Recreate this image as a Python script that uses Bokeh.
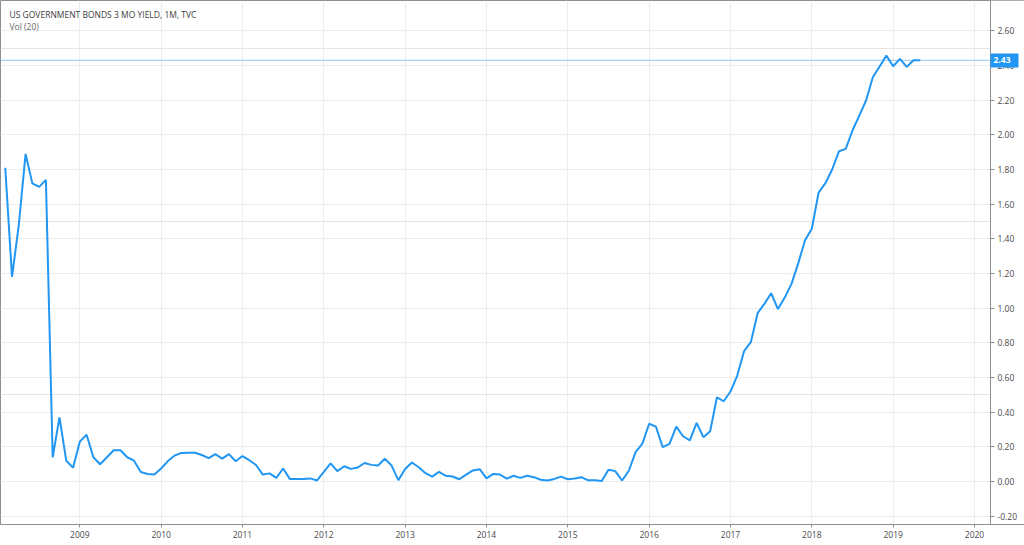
import pandas as pd
from bokeh.plotting import figure
from bokeh.models import (FixedTicker, NumeralTickFormatter, Label, Range1d,
                          LinearAxis, Grid)
from bokeh.embed import file_html
from bokeh.resources import INLINE

title_text = "US GOVERNMENT BONDS 3 MO YIELD, 1M, TVC"
subtitle_text = "Vol (20)"
start_month = "2008-02"

yields = [
    # 2008 (Feb-Dec)
    1.81, 1.18, 1.48, 1.89, 1.72, 1.70, 1.74, 0.14, 0.37, 0.12, 0.08,
    # 2009
    0.23, 0.27, 0.14, 0.10, 0.14, 0.18, 0.18, 0.14, 0.12, 0.055, 0.043, 0.04,
    # 2010
    0.075, 0.118, 0.15, 0.165, 0.166, 0.166, 0.153, 0.135, 0.158, 0.132, 0.158, 0.117,
    # 2011
    0.147, 0.123, 0.095, 0.04, 0.047, 0.021, 0.075, 0.014, 0.014, 0.014, 0.018, 0.006,
    # 2012
    0.055, 0.105, 0.06, 0.088, 0.073, 0.081, 0.107, 0.096, 0.092, 0.131, 0.092, 0.008,
    # 2013
    0.072, 0.11, 0.082, 0.048, 0.028, 0.056, 0.033, 0.029, 0.013, 0.04, 0.064, 0.071,
    # 2014
    0.018, 0.044, 0.04, 0.017, 0.033, 0.021, 0.033, 0.025, 0.01, 0.006, 0.015, 0.028,
    # 2015
    0.013, 0.017, 0.025, 0.007, 0.007, 0.003, 0.068, 0.06, 0.006, 0.062, 0.17, 0.219,
    # 2016
    0.333, 0.317, 0.198, 0.217, 0.317, 0.261, 0.237, 0.338, 0.256, 0.29, 0.486, 0.463,
    # 2017
    0.519, 0.611, 0.752, 0.804, 0.971, 1.025, 1.086, 0.995, 1.061, 1.14, 1.26, 1.392,
    # 2018
    1.458, 1.667, 1.721, 1.80, 1.905, 1.919, 2.025, 2.111, 2.198, 2.332, 2.394, 2.457,
    # 2019 (Jan-May)
    2.396, 2.438, 2.392, 2.43, 2.43,
]

year_labels = ["2009", "2010", "2011", "2012", "2013", "2014",
               "2015", "2016", "2017", "2018", "2019", "2020"]
y_tick_values = [-0.2, 0.0, 0.2, 0.4, 0.6, 0.8, 1.0, 1.2, 1.4,
                 1.6, 1.8, 2.0, 2.2, 2.4, 2.6]
last_value = 2.43

# month index relative to Jan 2009 (equal spacing per bar, as in TradingView)
months = pd.period_range(start_month, periods=len(yields), freq="M")
base_year = int(year_labels[0])
xs = [(m.year - base_year) * 12 + (m.month - 1) for m in months]
year_ticks = [(int(y) - base_year) * 12 for y in year_labels]

# layout: the frame spans the full width; the price scale sits at 990 px
W, H = 1024, 545
FRAME_W, FRAME_H = 1024, 524
PX_PER_MONTH = 6.778
X0 = -11.70
X1 = X0 + FRAME_W / PX_PER_MONTH
XA = X0 + 990 / PX_PER_MONTH          # price-scale position
Y0, Y1 = -0.248, 2.775

FONT = "Open Sans"
BLUE = "#2196f3"
AXIS_GRAY = "#8c9096"
TEXT_GRAY = "#4a4a4a"
GRID = "#e9eef3"

p = figure(width=W, height=H, output_backend="svg", toolbar_location=None,
           x_range=Range1d(X0, X1), y_range=Range1d(Y0, Y1),
           y_axis_location=None)
p.min_border_left = 0
p.min_border_top = 0
p.min_border_right = 0
p.min_border_bottom = 21
p.background_fill_color = "white"
p.border_fill_color = "white"
p.outline_line_color = AXIS_GRAY
p.outline_line_width = 1

# grids
p.xgrid.ticker = FixedTicker(ticks=year_ticks)
p.xgrid.grid_line_color = GRID
ygrid = Grid(dimension=1, ticker=FixedTicker(ticks=y_tick_values),
             grid_line_color=GRID)
p.add_layout(ygrid)

# blank price-scale strip (grid lines stop at the scale)
p.quad(left=[XA], right=[X1], bottom=[Y0], top=[Y1],
       fill_color="white", fill_alpha=1.0, line_color=None)

# series
p.line(xs, yields, line_color=BLUE, line_width=2)

# last value dotted line
p.segment(x0=[X0], y0=[last_value], x1=[XA], y1=[last_value],
          line_color=BLUE, line_width=1, line_dash="1 1")

# time axis
xa = p.xaxis[0]
xa.ticker = FixedTicker(ticks=year_ticks)
xa.major_label_overrides = {t: lab for t, lab in zip(year_ticks, year_labels)}
xa.minor_tick_line_color = None
xa.major_tick_in = 0
xa.major_tick_out = 3
xa.major_label_standoff = 3
xa.axis_line_color = AXIS_GRAY
xa.major_tick_line_color = AXIS_GRAY
xa.major_label_text_color = TEXT_GRAY
xa.major_label_text_font = FONT
xa.major_label_text_font_size = "8.5px"

# price axis (placed at the scale position)
ya = LinearAxis(fixed_location=XA,
                ticker=FixedTicker(ticks=y_tick_values),
                formatter=NumeralTickFormatter(format="0.00"),
                minor_tick_line_color=None,
                major_tick_in=0, major_tick_out=4,
                major_label_standoff=3,
                axis_line_color=AXIS_GRAY,
                major_tick_line_color=AXIS_GRAY,
                major_label_text_color=TEXT_GRAY,
                major_label_text_font=FONT,
                major_label_text_font_size="8.5px")
p.add_layout(ya, "right")

# last value badge on the price axis
badge = LinearAxis(fixed_location=XA,
                   ticker=FixedTicker(ticks=[last_value]),
                   formatter=NumeralTickFormatter(format="0.00"),
                   axis_line_color=None,
                   minor_tick_line_color=None,
                   major_tick_in=0, major_tick_out=28,
                   major_tick_line_color=BLUE, major_tick_line_width=14,
                   major_label_standoff=-25,
                   major_label_text_color="white",
                   major_label_text_font=FONT,
                   major_label_text_font_size="8.5px",
                   major_label_text_font_style="bold")
p.add_layout(badge, "right")

# header texts
upp = (Y1 - Y0) / FRAME_H
p.add_layout(Label(x=X0, y=Y1 - 14 * upp, x_offset=9, text=title_text,
                   text_align="left", text_baseline="middle",
                   text_color="#3c3c3c", text_font=FONT, text_font_size="8.5px"))
p.add_layout(Label(x=X0, y=Y1 - 26 * upp, x_offset=9, text=subtitle_text,
                   text_align="left", text_baseline="middle",
                   text_color="#6a6a6a", text_font=FONT, text_font_size="8.5px"))

open("out.html", "w").write(file_html(p, INLINE))
